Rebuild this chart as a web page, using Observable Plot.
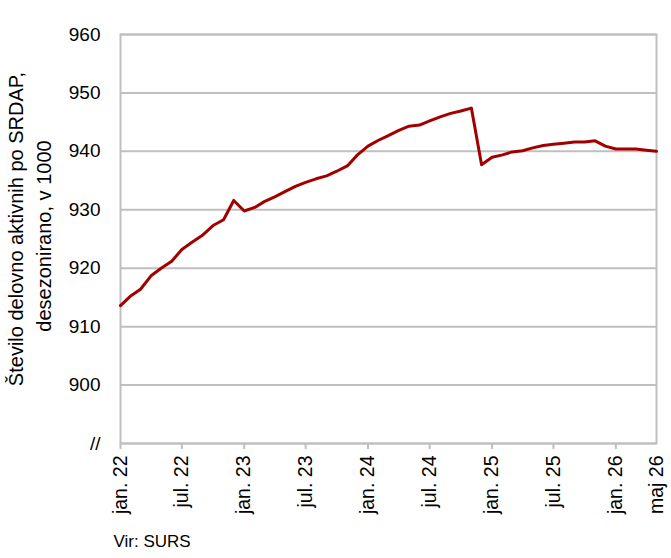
<!DOCTYPE html>
<html>
<head>
<meta charset="utf-8">
<script src="https://cdn.jsdelivr.net/npm/d3@7"></script>
<script src="https://cdn.jsdelivr.net/npm/@observablehq/plot@0.6"></script>
<style>
  html, body { margin: 0; padding: 0; background: #fff; }
  #chart svg { display: block; }
</style>
</head>
<body>
<div id="chart"></div>
<script>
// Data
const startMonth = "2022-01";
const endMonth = "2026-05";
const values = [
  913.6, 915.3, 916.4, 918.7, 920.0, 921.2, 923.2, 924.5, 925.7, 927.3, 928.3, 931.6,
  929.8, 930.4, 931.4, 932.2, 933.1, 934.0, 934.7, 935.3, 935.8, 936.6, 937.5, 939.4,
  940.9, 941.9, 942.7, 943.6, 944.3, 944.5, 945.2, 945.9, 946.5, 946.9, 947.4, 937.7,
  939.0, 939.4, 939.9, 940.1, 940.6, 941.0, 941.2, 941.4, 941.6, 941.6, 941.8, 940.9,
  940.4, 940.4, 940.4, 940.2, 940.0
];
const yTicks = [890, 900, 910, 920, 930, 940, 950, 960];
const xTickMonths = ["2022-01", "2022-07", "2023-01", "2023-07", "2024-01", "2024-07", "2025-01", "2025-07", "2026-01"];
const monthNames = {0: "jan.", 6: "jul.", 4: "maj"};
const yLabel1 = "Število delovno aktivnih po SRDAP,";
const yLabel2 = "desezonirano, v 1000";
const source = "Vir: SURS";

const parse = d3.utcParse("%Y-%m");
const t0 = parse(startMonth), t1 = parse(endMonth);
const months = d3.utcMonth.range(t0, d3.utcMonth.offset(t1, 1));
const data = months.map((d, i) => ({date: d, value: values[i]}));
const xTicks = xTickMonths.map(parse);
const fmt = d => `${monthNames[d.getUTCMonth()]} ${String(d.getUTCFullYear()).slice(2)}`;

const font = "'Liberation Sans', Arial, sans-serif";
const grid = "#bfbfbf";

const chart = Plot.plot({
  width: 671,
  height: 558,
  marginLeft: 120,
  marginRight: 15,
  marginTop: 34,
  marginBottom: 115,
  style: {fontFamily: font, fontSize: "19px", color: "#000", background: "#fff"},
  x: {type: "utc", domain: [t0, t1]},
  y: {domain: [890, 960]},
  marks: [
    Plot.gridY(yTicks, {stroke: grid, strokeOpacity: 1, strokeWidth: 2}),
    Plot.frame({stroke: grid, strokeWidth: 2}),
    Plot.axisY(yTicks, {tickSize: 0, tickPadding: 20, fontSize: 19, label: null,
      tickFormat: d => d === 890 ? "//" : String(d)}),
    Plot.axisX(xTicks, {tickSize: 6, tickPadding: 6, tickRotate: -90, fontSize: 19.5, label: null,
      stroke: grid, strokeWidth: 2, strokeOpacity: 1, tickFormat: fmt}),
    Plot.axisX([t1], {tickSize: 0, tickPadding: 12, tickRotate: -90, fontSize: 19.5, label: null,
      tickFormat: fmt}),
    Plot.line(data, {x: "date", y: "value", stroke: "#a20000", strokeWidth: 3, strokeLinejoin: "round"}),
    Plot.text([yLabel1], {frameAnchor: "left", textAnchor: "middle", rotate: -90, dx: -104, dy: -10, fontSize: 20, text: d => d}),
    Plot.text([yLabel2], {frameAnchor: "left", textAnchor: "middle", rotate: -90, dx: -76, dy: -3, fontSize: 20, text: d => d}),
    Plot.text([source], {frameAnchor: "bottom-left", textAnchor: "start", dx: -7, dy: 103, fontSize: 17, text: d => d})
  ]
});
document.getElementById("chart").appendChild(chart);
</script>
</body>
</html>
